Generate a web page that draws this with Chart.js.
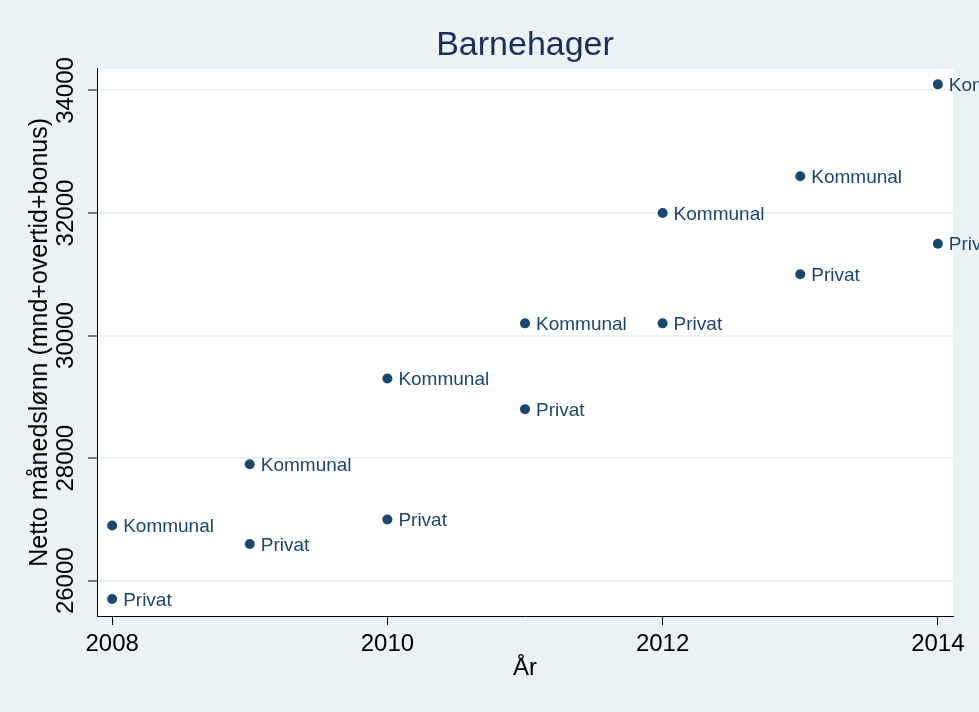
<!DOCTYPE html>
<html lang="no">
<head>
<meta charset="utf-8">
<title>Barnehager</title>
<script src="https://cdn.jsdelivr.net/npm/chart.js@4/dist/chart.umd.min.js"></script>
<style>
  html, body { margin: 0; padding: 0; background: #eaf2f3; }
  canvas { display: block; }
</style>
</head>
<body>
<canvas id="grafico" width="979" height="712"></canvas>
<script>
// ===============================
// DATA
// ===============================
const aar = [2008, 2009, 2010, 2011, 2012, 2013, 2014];
const kommunal = [26900, 27900, 29300, 30200, 32000, 32600, 34100];
const privat = [25700, 26600, 27000, 28800, 30200, 31000, 31500];
const serieNavn = ["Kommunal", "Privat"];
const xTicks = [2008, 2010, 2012, 2014];
const yTicks = [26000, 28000, 30000, 32000, 34000];

// ===============================
// STIL
// ===============================
const FONT = "'Liberation Sans', Arial, sans-serif";
const NAVY = "#1a476f";
const BG = "#eaf2f3";

// ===============================
// PLUGINS
// ===============================
const bakgrunn = {
  id: "bakgrunn",
  beforeDraw(chart) {
    const { ctx, chartArea } = chart;
    ctx.save();
    ctx.fillStyle = BG;
    ctx.fillRect(0, 0, chart.width, chart.height);
    ctx.fillStyle = "#ffffff";
    ctx.fillRect(chartArea.left, chartArea.top, chartArea.right - chartArea.left, chartArea.bottom - chartArea.top);
    ctx.restore();
  }
};

// etiketter ved siden av hvert punkt (ikke klippet til plottområdet)
const punktEtiketter = {
  id: "punktEtiketter",
  afterDatasetsDraw(chart) {
    const ctx = chart.ctx;
    ctx.save();
    ctx.font = "19px " + FONT;
    ctx.fillStyle = NAVY;
    ctx.textAlign = "left";
    ctx.textBaseline = "middle";
    chart.data.datasets.forEach((ds, i) => {
      const meta = chart.getDatasetMeta(i);
      meta.data.forEach(el => {
        ctx.fillText(ds.label, el.x + 11, el.y + 1.5);
      });
    });
    ctx.restore();
  }
};

// ===============================
// GRAF
// ===============================
const ctx = document.getElementById("grafico").getContext("2d");
new Chart(ctx, {
  type: "scatter",
  data: {
    datasets: [
      { label: serieNavn[0], data: aar.map((a, i) => ({ x: a, y: kommunal[i] })) },
      { label: serieNavn[1], data: aar.map((a, i) => ({ x: a, y: privat[i] })) }
    ].map(ds => Object.assign(ds, {
      backgroundColor: NAVY,
      borderColor: NAVY,
      pointRadius: 5,
      pointBorderWidth: 0
    }))
  },
  options: {
    responsive: false,
    animation: false,
    devicePixelRatio: 1,
    layout: { padding: { left: 0, right: 26, top: 0, bottom: 0 } },
    plugins: {
      legend: { display: false },
      tooltip: { enabled: false },
      title: {
        display: true,
        fullSize: false,
        text: "Barnehager",
        color: "#1c2d5c",
        font: { family: FONT, size: 34, weight: "normal" },
        padding: { top: 25, bottom: 3 }
      }
    },
    scales: {
      x: {
        type: "linear",
        min: 2007.89,
        max: 2014.11,
        afterBuildTicks: s => { s.ticks = xTicks.map(v => ({ value: v })); },
        afterFit: s => { s.height = 96; },
        grid: { drawOnChartArea: false, tickLength: 9, tickColor: "#000", tickWidth: 1 },
        border: { color: "#000", width: 1 },
        ticks: {
          color: "#000",
          font: { family: FONT, size: 24 },
          padding: 5,
          maxRotation: 0,
          autoSkip: false,
          callback: v => String(v)
        },
        title: {
          display: true,
          text: "År",
          color: "#000",
          font: { family: FONT, size: 24 },
          padding: { top: 0, bottom: 29 }
        }
      },
      y: {
        min: 25424,
        max: 34354,
        afterBuildTicks: s => { s.ticks = yTicks.map(v => ({ value: v })); },
        afterFit: s => { s.width = 97; },
        grid: { color: BG, lineWidth: 2, tickLength: 9, tickColor: "#000", tickWidth: 1 },
        border: { color: "#000", width: 1 },
        ticks: {
          color: "#000",
          font: { family: FONT, size: 24 },
          minRotation: 90,
          maxRotation: 90,
          crossAlign: "center",
          padding: -12,
          autoSkip: false,
          callback: v => String(v)
        },
        title: {
          display: true,
          text: "Netto månedslønn (mnd+overtid+bonus)",
          color: "#000",
          font: { family: FONT, size: 25 },
          padding: { top: 25, bottom: 0 }
        }
      }
    }
  },
  plugins: [bakgrunn, punktEtiketter]
});
</script>
</body>
</html>
